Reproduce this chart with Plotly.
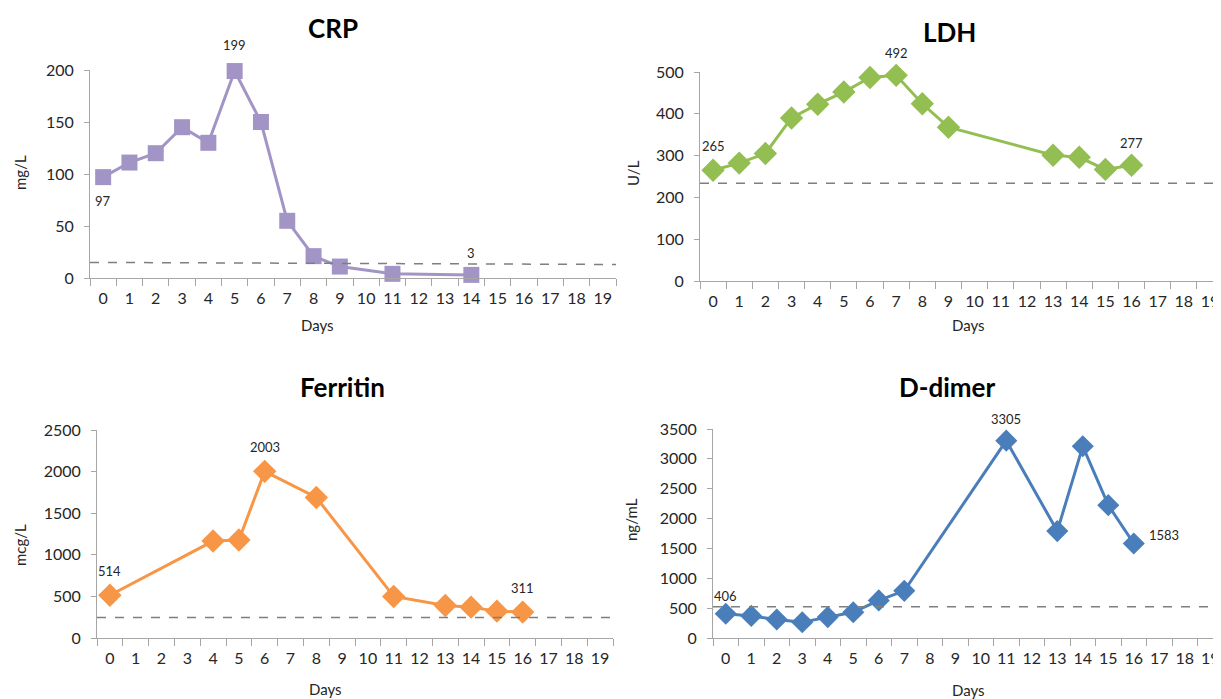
import plotly.graph_objects as go

# The page body has an 8px margin, so the figure is drawn 8px in from the
# top-left of the 1221x699 window; size it to fill the rest exactly.
OFF = 8
W, H = 1221 - OFF, 699 - OFF

# ---------------- data ----------------
day_categories = [str(d) for d in range(20)]

crp_days = [0, 1, 2, 3, 4, 5, 6, 7, 8, 9, 11, 14]
crp_vals = [97, 111, 120, 145, 130, 199, 150, 55, 21, 11, 4, 3]
crp_ref = [15, 13]  # dashed reference (left, right)

ldh_days = [0, 1, 2, 3, 4, 5, 6, 7, 8, 9, 13, 14, 15, 16]
ldh_vals = [265, 282, 305, 390, 423, 452, 487, 492, 424, 368, 301, 296, 267, 277]
ldh_ref = [234, 234]

fer_days = [0, 4, 5, 6, 8, 11, 13, 14, 15, 16]
fer_vals = [514, 1165, 1178, 2003, 1689, 499, 390, 371, 323, 311]
fer_ref = [245, 245]

dd_days = [0, 1, 2, 3, 4, 5, 6, 7, 11, 13, 14, 15, 16]
dd_vals = [406, 370, 310, 265, 350, 430, 630, 790, 3305, 1790, 3210, 2225, 1583]
dd_ref = [525, 525]

# ---------------- layout helpers (window pixels -> paper fraction) ----------------
def px_x(p):
    return (p - OFF) / W

def px_y(p):
    return 1 - (p - OFF) / H

FONT = "Lato, 'Open Sans', Arial, sans-serif"
AXIS_COLOR = "#A6A6A6"
TEXT_COLOR = "#262626"

panels = [
    dict(name="CRP", days=crp_days, vals=crp_vals, ref=crp_ref,
         color="#A295C6", symbol="square", msize=16, unit="mg/L",
         xdom=[px_x(90), px_x(616)], xrange=[-0.5, 19.5],
         ydom=[px_y(278), px_y(70)], yrange=[0, 200], dtick=50,
         title_xy=(333, 28), unit_xy=(20, 173), days_xy=(317, 325),
         labels=[(0, 97, 0, -24), (5, 199, 0, 26), (14, 3, 0, 22)]),
    dict(name="LDH", days=ldh_days, vals=ldh_vals, ref=ldh_ref,
         color="#93BE52", symbol="diamond", msize=18, unit="U/L",
         xdom=[px_x(700), 1.0], xrange=[-0.5, 19.42],
         ydom=[px_y(281), px_y(72)], yrange=[0, 500], dtick=100,
         title_xy=(949, 32), unit_xy=(633, 173), days_xy=(968, 325),
         labels=[(0, 265, 0, 24), (7, 492, 0, 22), (16, 277, 0, 22)]),
    dict(name="Ferritin", days=fer_days, vals=fer_vals, ref=fer_ref,
         color="#F79646", symbol="diamond", msize=18, unit="mcg/L",
         xdom=[px_x(97), px_x(613)], xrange=[-0.5, 19.5],
         ydom=[px_y(638), px_y(430)], yrange=[0, 2500], dtick=500,
         title_xy=(343, 387), unit_xy=(20, 545), days_xy=(325, 689),
         labels=[(0, 514, 0, 24), (6, 2003, 0, 24), (16, 311, 0, 24)]),
    dict(name="D-dimer", days=dd_days, vals=dd_vals, ref=dd_ref,
         color="#4A7EBB", symbol="diamond", msize=17, unit="ng/mL",
         xdom=[px_x(713), 1.0], xrange=[-0.5, 19.42],
         ydom=[px_y(638), px_y(429)], yrange=[0, 3500], dtick=500,
         title_xy=(947, 387), unit_xy=(631, 520), days_xy=(968, 690),
         labels=[(0, 406, 0, 18), (11, 3305, 0, 22), (16, 1583, 30, 8)]),
]

fig = go.Figure()
annotations = []
shapes = []

for i, p in enumerate(panels, start=1):
    xa = "x" if i == 1 else f"x{i}"
    ya = "y" if i == 1 else f"y{i}"
    xkey = "xaxis" if i == 1 else f"xaxis{i}"
    ykey = "yaxis" if i == 1 else f"yaxis{i}"

    fig.add_trace(go.Scatter(
        x=[str(d) for d in p["days"]], y=p["vals"],
        mode="lines+markers",
        line=dict(color=p["color"], width=3),
        marker=dict(symbol=p["symbol"], size=p["msize"], color=p["color"],
                    line=dict(width=0)),
        xaxis=xa, yaxis=ya, cliponaxis=False, showlegend=False,
        hoverinfo="x+y",
    ))

    fig.layout[xkey] = dict(
        domain=p["xdom"], anchor=ya, type="category",
        categoryorder="array", categoryarray=day_categories,
        range=p["xrange"], showgrid=False, zeroline=False,
        showline=True, linecolor=AXIS_COLOR, linewidth=1,
        ticks="outside", tickson="boundaries", ticklen=7,
        tickcolor=AXIS_COLOR, tickangle=0, automargin=False,
        ticklabelstandoff=6,
        tickfont=dict(family=FONT, size=16, color=TEXT_COLOR),
        fixedrange=True,
    )
    fig.layout[ykey] = dict(
        domain=p["ydom"], anchor=xa, range=p["yrange"], dtick=p["dtick"],
        tick0=0, showgrid=False, zeroline=False,
        showline=True, linecolor=AXIS_COLOR, linewidth=1,
        ticks="outside", ticklen=5, tickcolor=AXIS_COLOR, automargin=False,
        ticklabelstandoff=7,
        tickfont=dict(family=FONT, size=16, color=TEXT_COLOR),
        fixedrange=True,
    )

    # dashed reference line across the plot area
    shapes.append(dict(
        type="line", xref=f"{xa} domain", yref=ya,
        x0=0, x1=1, y0=p["ref"][0], y1=p["ref"][1],
        line=dict(color="#7F7F7F", width=1.5, dash="dash"),
    ))

    tx, ty = p["title_xy"]
    annotations.append(dict(
        text=f"<b>{p['name']}</b>", x=px_x(tx), y=px_y(ty),
        xref="paper", yref="paper", showarrow=False,
        font=dict(family=FONT, size=26, color="#000000"),
        xanchor="center", yanchor="middle",
    ))
    ux, uy = p["unit_xy"]
    annotations.append(dict(
        text=p["unit"], x=px_x(ux), y=px_y(uy), textangle=-90,
        xref="paper", yref="paper", showarrow=False,
        font=dict(family=FONT, size=15, color=TEXT_COLOR),
        xanchor="center", yanchor="middle",
    ))
    dx, dy = p["days_xy"]
    annotations.append(dict(
        text="Days", x=px_x(dx), y=px_y(dy),
        xref="paper", yref="paper", showarrow=False,
        font=dict(family=FONT, size=15, color=TEXT_COLOR),
        xanchor="center", yanchor="middle",
    ))
    for (d, v, xs, ys) in p["labels"]:
        annotations.append(dict(
            text=str(v), x=str(d), y=v, xref=xa, yref=ya,
            xshift=xs, yshift=ys, showarrow=False,
            font=dict(family=FONT, size=13, color=TEXT_COLOR),
            xanchor="center", yanchor="middle",
        ))

fig.update_layout(
    template="none",
    width=W, height=H,
    margin=dict(l=0, r=0, t=0, b=0, autoexpand=False),
    paper_bgcolor="white", plot_bgcolor="white",
    annotations=annotations, shapes=shapes,
    showlegend=False,
)

fig.write_html("out.html")
